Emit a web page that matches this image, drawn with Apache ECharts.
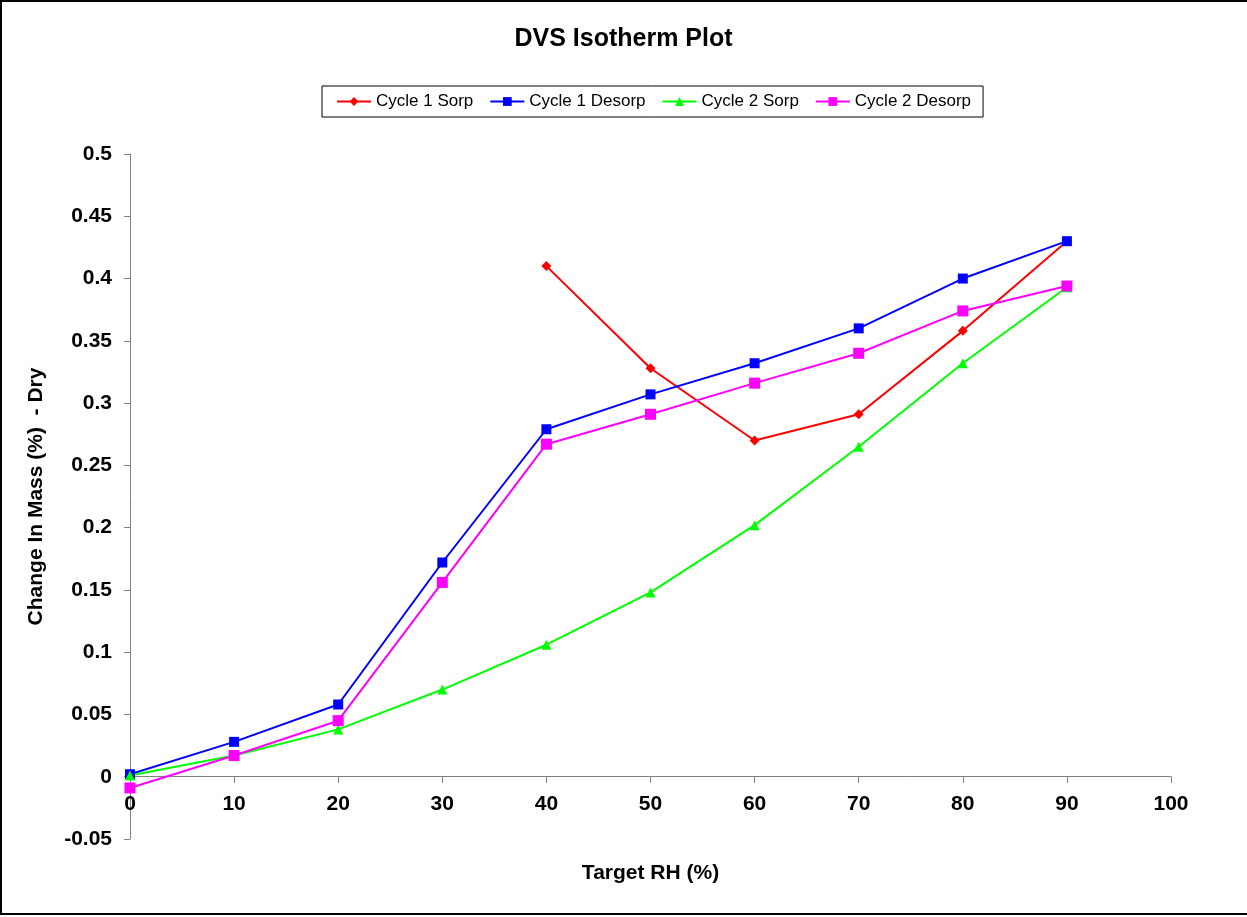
<!DOCTYPE html>
<html>
<head>
<meta charset="utf-8">
<style>
html, body { margin: 0; padding: 0; background: #fff; }
#chart { width: 1247px; height: 917px; }
</style>
<script src="https://cdn.jsdelivr.net/npm/echarts@6/dist/echarts.min.js"></script>
</head>
<body>
<div id="chart"></div>
<script>
var rh = [0, 10, 20, 30, 40, 50, 60, 70, 80, 90];
var cycle1SorpRh = [40, 50, 60, 70, 80, 90];
var cycle1Sorp = [0.410, 0.328, 0.270, 0.291, 0.358, 0.430];
var cycle1Desorp = [0.002, 0.028, 0.058, 0.172, 0.279, 0.307, 0.332, 0.360, 0.400, 0.430];
var cycle2Sorp = [0.001, 0.017, 0.038, 0.070, 0.106, 0.148, 0.202, 0.265, 0.332, 0.393];
var cycle2Desorp = [-0.009, 0.017, 0.045, 0.156, 0.267, 0.291, 0.316, 0.340, 0.374, 0.394];

function pairs(xs, ys) {
    return xs.map(function (x, i) { return [x, ys[i]]; });
}

var dom = document.getElementById("chart");
var myChart = echarts.init(dom);

function line(name, data, color, symbol, size) {
    return {
        name: name,
        type: 'line',
        data: data,
        symbol: symbol,
        symbolSize: size,
        showAllSymbol: true,
        lineStyle: { color: color, width: 2 },
        itemStyle: { color: color },
        animation: false
    };
}

var option = {
    backgroundColor: '#fff',
    textStyle: { fontFamily: 'Liberation Sans, Arial, sans-serif' },
    title: {
        text: 'DVS Isotherm Plot',
        left: 'center',
        top: 22,
        textStyle: { fontSize: 25, fontWeight: 'bold', color: '#000' }
    },
    legend: {
        top: 86,
        left: 322,
        borderColor: '#000',
        borderWidth: 1,
        padding: [7, 12, 7, 14],
        itemGap: 16,
        itemWidth: 34,
        itemHeight: 11,
        textStyle: { fontSize: 17, color: '#000' },
        data: ['Cycle 1 Sorp', 'Cycle 1 Desorp', 'Cycle 2 Sorp', 'Cycle 2 Desorp']
    },
    graphic: [{
        type: 'rect',
        shape: { x: 1, y: 1, width: 1260, height: 913 },
        style: { fill: 'none', stroke: '#000', lineWidth: 2 },
        silent: true
    }],
    grid: { left: 130, right: 76, top: 154, bottom: 78, containLabel: false, outerBoundsMode: 'none' },
    xAxis: {
        type: 'value',
        min: 0,
        max: 100,
        interval: 10,
        name: 'Target RH (%)',
        nameLocation: 'middle',
        nameGap: 24,
        nameTextStyle: { fontSize: 21, fontWeight: 'bold', color: '#000' },
        splitLine: { show: false },
        axisLine: { onZero: true, lineStyle: { color: '#808080', width: 1 } },
        axisTick: { show: true, inside: false, length: 6, lineStyle: { color: '#808080' } },
        axisLabel: { fontSize: 21, fontWeight: 'bold', color: '#000', margin: -45 }
    },
    yAxis: {
        type: 'value',
        min: -0.05,
        max: 0.5,
        interval: 0.05,
        name: 'Change In Mass (%)  - Dry',
        nameLocation: 'middle',
        nameGap: 83,
        nameRotate: 90,
        nameTextStyle: { fontSize: 21, fontWeight: 'bold', color: '#000' },
        splitLine: { show: false },
        axisLine: { show: true, lineStyle: { color: '#808080', width: 1 } },
        axisTick: { show: true, inside: false, length: 6, lineStyle: { color: '#808080' } },
        axisLabel: {
            fontSize: 21, fontWeight: 'bold', color: '#000', margin: 18,
            formatter: function (v) { return String(Math.round(v * 100) / 100); }
        }
    },
    series: [
        line('Cycle 1 Sorp', pairs(cycle1SorpRh, cycle1Sorp), '#FF0000', 'diamond', 10),
        line('Cycle 1 Desorp', pairs(rh, cycle1Desorp), '#0000FF', 'rect', 10),
        line('Cycle 2 Sorp', pairs(rh, cycle2Sorp), '#00FF00', 'triangle', 10),
        line('Cycle 2 Desorp', pairs(rh, cycle2Desorp), '#FF00FF', 'rect', 11)
    ]
};

myChart.setOption(option, true);
</script>
</body>
</html>
